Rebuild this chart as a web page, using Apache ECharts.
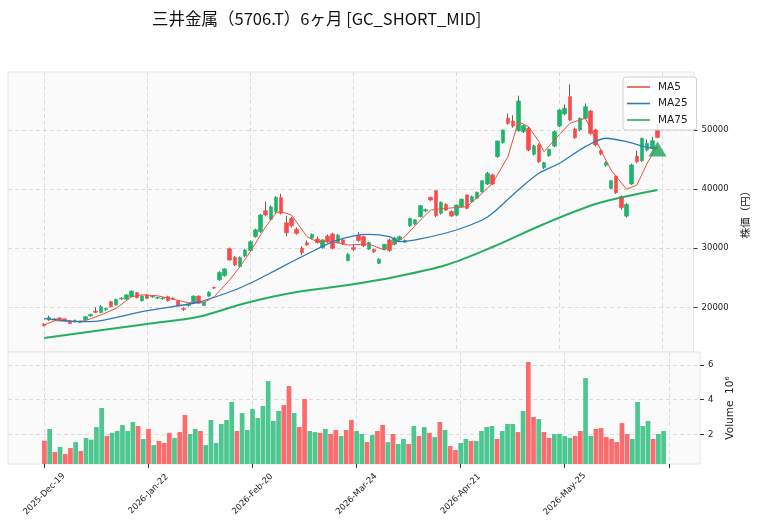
<!DOCTYPE html>
<html>
<head>
<meta charset="utf-8">
<title>三井金属（5706.T）6ヶ月</title>
<script src="https://cdn.jsdelivr.net/npm/echarts@6/dist/echarts.min.js"></script>
<style>
  html, body { margin: 0; padding: 0; background: #fff; }
  #chart { width: 758px; height: 526px; }
</style>
</head>
<body>
<div id="chart"></div>
<script>
// trading days
var dates = (
  '2025-Dec-19 2025-Dec-22 2025-Dec-23 2025-Dec-24 2025-Dec-25 2025-Dec-26 2025-Dec-29 2025-Dec-30 ' +
  '2026-Jan-05 2026-Jan-06 2026-Jan-07 2026-Jan-08 2026-Jan-09 2026-Jan-13 2026-Jan-14 2026-Jan-15 2026-Jan-16 ' +
  '2026-Jan-19 2026-Jan-20 2026-Jan-21 2026-Jan-22 2026-Jan-23 2026-Jan-26 2026-Jan-27 2026-Jan-28 2026-Jan-29 2026-Jan-30 ' +
  '2026-Feb-02 2026-Feb-03 2026-Feb-04 2026-Feb-05 2026-Feb-06 2026-Feb-09 2026-Feb-10 2026-Feb-12 2026-Feb-13 ' +
  '2026-Feb-16 2026-Feb-17 2026-Feb-18 2026-Feb-19 2026-Feb-20 2026-Feb-24 2026-Feb-25 2026-Feb-26 2026-Feb-27 ' +
  '2026-Mar-02 2026-Mar-03 2026-Mar-04 2026-Mar-05 2026-Mar-06 2026-Mar-09 2026-Mar-10 2026-Mar-11 2026-Mar-12 2026-Mar-13 ' +
  '2026-Mar-16 2026-Mar-17 2026-Mar-18 2026-Mar-19 2026-Mar-23 2026-Mar-24 2026-Mar-25 2026-Mar-26 2026-Mar-27 2026-Mar-30 2026-Mar-31 ' +
  '2026-Apr-01 2026-Apr-02 2026-Apr-03 2026-Apr-06 2026-Apr-07 2026-Apr-08 2026-Apr-09 2026-Apr-10 2026-Apr-13 2026-Apr-14 ' +
  '2026-Apr-15 2026-Apr-16 2026-Apr-17 2026-Apr-20 2026-Apr-21 2026-Apr-22 2026-Apr-23 2026-Apr-24 2026-Apr-27 2026-Apr-28 2026-Apr-30 ' +
  '2026-May-01 2026-May-07 2026-May-08 2026-May-11 2026-May-12 2026-May-13 2026-May-14 2026-May-15 2026-May-18 2026-May-19 ' +
  '2026-May-20 2026-May-21 2026-May-22 2026-May-25 2026-May-26 2026-May-27 2026-May-28 2026-May-29 ' +
  '2026-Jun-01 2026-Jun-02 2026-Jun-03 2026-Jun-04 2026-Jun-05 2026-Jun-08 2026-Jun-09 2026-Jun-10 2026-Jun-11 2026-Jun-12 ' +
  '2026-Jun-15 2026-Jun-16 2026-Jun-17 2026-Jun-18 2026-Jun-19'
).split(' ');

// [open, high, low, close]
var ohlc = [
  [17150,17300,16800,16900],[17900,18600,17700,18300],[18050,18150,17800,17850],[18200,18300,17900,17950],
  [18050,18100,17700,17800],[17700,17750,17150,17250],[17550,17900,17450,17800],[17450,17700,17350,17650],
  [17900,18500,17800,18400],[18550,18900,18400,18800],[19350,20000,19000,19150],[19100,20400,19000,20100],
  [19600,19950,19400,19800],[20950,21100,20000,20100],[20400,21450,20300,21350],[21400,21700,21300,21550],
  [21370,22200,21300,22100],[21800,22850,21700,22750],[22470,22600,21500,21630],[21100,22000,21000,21900],
  [22100,22200,21400,21530],[21750,22000,21600,21850],[21550,21800,21400,21650],[21450,21700,21300,21550],
  [21800,21950,21000,21100],[21550,21700,21300,21450],[21100,21200,20200,20300],[19800,20000,19400,19650],
  [20300,20700,20100,20500],[20950,22000,20800,21900],[21900,22000,20600,20700],[20300,21000,20200,20900],
  [21900,22700,21800,22550],[23350,23500,23100,23250],[24650,26100,24500,25900],[25350,26600,25200,26500],
  [29900,30100,27900,28000],[28450,28700,27000,27150],[26900,28600,26700,28400],[28700,29900,28500,29700],
  [29600,31300,29400,31100],[31950,33300,31800,33100],[32800,35800,32600,35620],[36350,37900,35400,35620],
  [34900,37200,34700,37000],[36200,38800,36000,38600],[38550,39200,35700,35900],[34300,35500,32000,32600],
  [35050,35300,33500,33800],[33200,33500,32300,32500],[30000,30300,28800,29250],[30950,31300,30400,30550],
  [31700,32500,31500,32350],[31550,32000,30800,30950],[30100,31500,29900,31400],[32050,32300,30900,31100],
  [32400,32600,29800,30000],[30950,32400,30800,32200],[31400,31600,30500,30700],[27900,29200,27800,28950],
  [30100,30700,29500,29800],[32100,32700,31100,31300],[31950,32100,30200,30400],[29850,31100,29700,30950],
  [29800,29900,29200,29400],[27450,28300,27300,28150],[29850,30700,29700,30650],[31400,31600,29400,29600],
  [30700,31900,30500,31700],[31400,32100,31300,31950],[31000,31500,30900,31300],[33800,35100,33600,35050],
  [34100,34900,33900,34800],[35350,37300,35200,37200],[36300,36700,36100,36500],[38600,38700,38000,38150],
  [39730,39800,35300,35500],[35900,37900,35700,37760],[37400,37600,36300,36450],[36200,36400,35300,35450],
  [35600,37400,35400,37300],[37000,38400,36800,38300],[39000,39100,36600,36750],[37870,38900,37700,38700],
  [38450,39600,38300,39450],[39560,41500,39400,41420],[40860,42900,40700,42670],[42380,42600,40700,40860],
  [45490,48200,45300,48140],[47860,50100,47700,50000],[51980,52800,50900,51130],[51520,52500,50400,50680],
  [49880,55800,49700,54900],[49720,50900,49500,50730],[50280,50500,46400,46620],[45890,47500,45700,47300],
  [47460,47700,44400,44640],[43640,44600,43400,44470],[45650,46800,45500,46730],[47300,49900,47100,49720],
  [50680,53500,50500,53380],[52710,54300,52500,53670],[55640,57700,51500,51690],[50170,50400,48500,48700],
  [50000,52100,49800,51980],[51980,54500,51800,53940],[53210,53400,49200,49440],[50000,50200,47200,47460],
  [46500,46800,45700,45940],[44030,44700,43800,44470],[40140,41500,40000,41420],[42220,42400,39200,39400],
  [38730,38900,36500,36870],[35430,37600,35200,37410],[40860,44300,40700,44080],[45600,46500,44400,44640],
  [44800,48700,44600,48600],[46620,48400,46400,47750],[46900,48800,46700,48190],[50000,51000,48600,48760]
];

// volume, millions of shares
var volume = [
  1.63,2.31,0.98,1.27,0.86,1.21,1.55,1.03,1.79,1.69,2.42,3.52,1.90,2.08,2.19,2.54,2.19,2.71,2.48,1.73,
  2.31,1.38,1.61,1.50,2.08,1.79,2.13,3.12,2.02,2.31,2.19,1.38,2.83,1.50,2.60,2.83,3.87,2.19,3.23,2.25,
  3.46,2.94,3.64,5.08,2.77,3.35,3.69,4.79,3.23,2.42,4.04,2.19,2.13,2.08,2.31,2.02,2.25,1.90,2.25,2.83,
  2.19,2.02,1.55,1.96,2.19,2.54,1.55,2.02,1.44,1.73,1.44,2.48,1.90,2.42,2.08,1.84,2.71,2.25,1.32,1.09,
  1.50,1.73,1.61,1.61,2.19,2.42,2.48,1.73,2.19,2.60,2.60,2.13,3.35,6.18,3.00,2.88,2.13,1.79,2.02,2.02,
  1.90,1.79,1.90,2.19,5.25,1.90,2.31,2.36,1.84,1.73,1.55,2.65,2.02,1.73,3.87,2.48,2.77,1.73,2.02,2.19
];

// moving averages: [day index, value]
var ma5 = [[0,17000],[2,17730],[6,17570],[8,17740],[11,18700],[14,19830],[17,21800],[19,22100],[22,21950],
  [25,21370],[28,20780],[31,20780],[33,21800],[36,24620],[38,26870],[40,29400],[43,33640],[45,36000],[46,36180],
  [48,35620],[51,31950],[53,31100],[56,31100],[59,30540],[63,30710],[66,29700],[68,30830],[70,31950],[73,34770],
  [75,36460],[78,36750],[82,37020],[85,39290],[87,41000],[90,45490],[92,51410],[94,50560],[96,48020],[97,46330],
  [99,48310],[102,51130],[105,51980],[106,50290],[108,46620],[110,43230],[113,39970],[115,40690],[117,44370],[119,47300]];
var ma25 = [[0,18100],[8,17570],[11,17740],[20,19430],[30,20900],[37,22930],[41,24500],[45,26300],[50,28560],
  [57,31390],[63,32350],[67,31950],[69,31100],[73,31560],[80,33080],[85,34770],[87,35900],[92,39850],[96,42670],
  [100,44370],[105,47180],[109,48600],[113,48020],[117,47070],[119,46950]];
var ma75 = [[0,14800],[20,17180],[30,18400],[39,20700],[49,22590],[59,23770],[68,25130],[78,27160],[87,30200],
  [97,34100],[107,37480],[116,39340],[119,39850]];

var signalDay = 119, signalPrice = 46800;
var priceTicks = [20000, 30000, 40000, 50000];
var volTicks = [2, 4, 6];

var PAD_L = 7, PAD_R = 7, STEP = 20;
var cats = [];
for (var i = 0; i < PAD_L; i++) cats.push('');
cats = cats.concat(dates);
for (var i = 0; i < PAD_R; i++) cats.push('');

function onTick(index) {
  var d = index - PAD_L;
  return d >= 0 && d <= dates.length && d % STEP === 0;
}
function plain(v) { return String(v); }

var UP = '#1db46c', DOWN = '#fb4a4c', VUP = '#4dc790', VDOWN = '#fd6b6c', WICK = '#606060';
var grid = {type: [4, 3], color: '#d4d4d4', width: 0.8};

var wickData = ohlc.map(function (r, i) { return [i + PAD_L, r[0], r[3], r[2], r[1]]; });
var bodyData = ohlc.map(function (r, i) { return [i + PAD_L, r[0], r[3], Math.min(r[0], r[3]), Math.max(r[0], r[3])]; });
var volData = volume.map(function (v, i) {
  var prev = i > 0 ? ohlc[i - 1][3] : ohlc[i][0];
  return {value: [i + PAD_L, v], itemStyle: {color: ohlc[i][3] >= prev ? VUP : VDOWN}};
});
function shift(arr) { return arr.map(function (p) { return [p[0] + PAD_L, p[1]]; }); }

var chart = echarts.init(document.getElementById('chart'));
chart.setOption({
  animation: false,
  backgroundColor: '#fff',
  textStyle: {fontFamily: 'DejaVu Sans'},
  title: {
    text: '三井金属（5706.T）6ヶ月 [GC_SHORT_MID]',
    left: 147, top: 5,
    textStyle: {fontFamily: 'Noto Sans CJK JP', fontSize: 16.5, fontWeight: 'normal', color: '#111'}
  },
  legend: {
    data: ['MA5', 'MA25', 'MA75'],
    orient: 'vertical',
    left: 623, top: 77,
    icon: 'rect',
    itemWidth: 23, itemHeight: 1.6, itemGap: 4.5,
    padding: [4, 9, 4, 4],
    backgroundColor: 'rgba(255,255,255,0.85)',
    borderColor: '#d0d0d0', borderWidth: 1, borderRadius: 3,
    textStyle: {fontSize: 10.5, color: '#222', lineHeight: 12, padding: [0, 0, 0, 3]}
  },
  grid: [
    {left: 8, top: 72, width: 692, height: 280, show: true, backgroundColor: '#fafafa', borderColor: '#e6e6e6', borderWidth: 1},
    {left: 8, top: 352, width: 692, height: 112, show: true, backgroundColor: '#fafafa', borderColor: '#e6e6e6', borderWidth: 1}
  ],
  xAxis: [
    {type: 'category', gridIndex: 0, data: cats, boundaryGap: false,
      axisLine: {show: false}, axisTick: {show: false}, axisLabel: {show: false},
      splitLine: {show: true, interval: onTick, lineStyle: grid}},
    {type: 'category', gridIndex: 1, data: cats, boundaryGap: false,
      axisLine: {show: false},
      axisTick: {show: true, interval: onTick, length: 4, lineStyle: {color: '#333'}},
      axisLabel: {interval: onTick, rotate: 45, align: 'center', verticalAlign: 'middle',
        fontSize: 8.5, color: '#222', margin: 30},
      splitLine: {show: true, interval: onTick, lineStyle: grid}}
  ],
  yAxis: [
    {type: 'value', gridIndex: 0, position: 'right', min: 12440, max: 59810, scale: true,
      axisLine: {show: false},
      axisTick: {show: true, length: 4, customValues: priceTicks, lineStyle: {color: '#333'}},
      axisLabel: {customValues: priceTicks, formatter: plain, fontSize: 8.5, color: '#222', margin: 8},
      splitLine: {show: true, lineStyle: grid},
      name: '株価（円）', nameLocation: 'middle', nameRotate: 90, nameGap: 40,
      nameTextStyle: {fontFamily: 'Noto Sans CJK JP', fontSize: 10.5, color: '#222'}},
    {type: 'value', gridIndex: 1, position: 'right', min: 0.283, max: 6.76,
      axisLine: {show: false},
      axisTick: {show: true, length: 4, customValues: volTicks, lineStyle: {color: '#333'}},
      axisLabel: {customValues: volTicks, formatter: plain, fontSize: 8.5, color: '#222', margin: 8},
      splitLine: {show: true, lineStyle: grid},
      name: 'Volume  10⁶', nameLocation: 'middle', nameRotate: 90, nameGap: 22,
      nameTextStyle: {fontSize: 10.5, color: '#222'}}
  ],
  series: [
    {type: 'candlestick', xAxisIndex: 0, yAxisIndex: 0, barWidth: 1, data: wickData,
      encode: {x: 0, y: [1, 2, 3, 4]},
      itemStyle: {color: WICK, color0: WICK, borderColor: WICK, borderColor0: WICK, borderWidth: 1}},
    {type: 'candlestick', xAxisIndex: 0, yAxisIndex: 0, barWidth: 4, data: bodyData,
      encode: {x: 0, y: [1, 2, 3, 4]},
      itemStyle: {color: UP, color0: DOWN, borderColor: UP, borderColor0: DOWN, borderWidth: 0.6}},
    {name: 'MA5', type: 'line', xAxisIndex: 0, yAxisIndex: 0, data: shift(ma5), symbol: 'none',
      lineStyle: {color: '#e8533f', width: 1}, itemStyle: {color: '#e8533f'}},
    {name: 'MA25', type: 'line', xAxisIndex: 0, yAxisIndex: 0, data: shift(ma25), symbol: 'none', smooth: 0.3,
      lineStyle: {color: '#2b7bba', width: 1.3}, itemStyle: {color: '#2b7bba'}},
    {name: 'MA75', type: 'line', xAxisIndex: 0, yAxisIndex: 0, data: shift(ma75), symbol: 'none', smooth: 0.3,
      lineStyle: {color: '#27ae60', width: 2}, itemStyle: {color: '#27ae60'}},
    {type: 'scatter', xAxisIndex: 0, yAxisIndex: 0, data: [[signalDay + PAD_L, signalPrice]],
      symbol: 'triangle', symbolSize: [18, 15], itemStyle: {color: '#21a05a'}, z: 5},
    {type: 'bar', xAxisIndex: 1, yAxisIndex: 1, data: volData, barWidth: 4.7}
  ]
});
</script>
</body>
</html>
